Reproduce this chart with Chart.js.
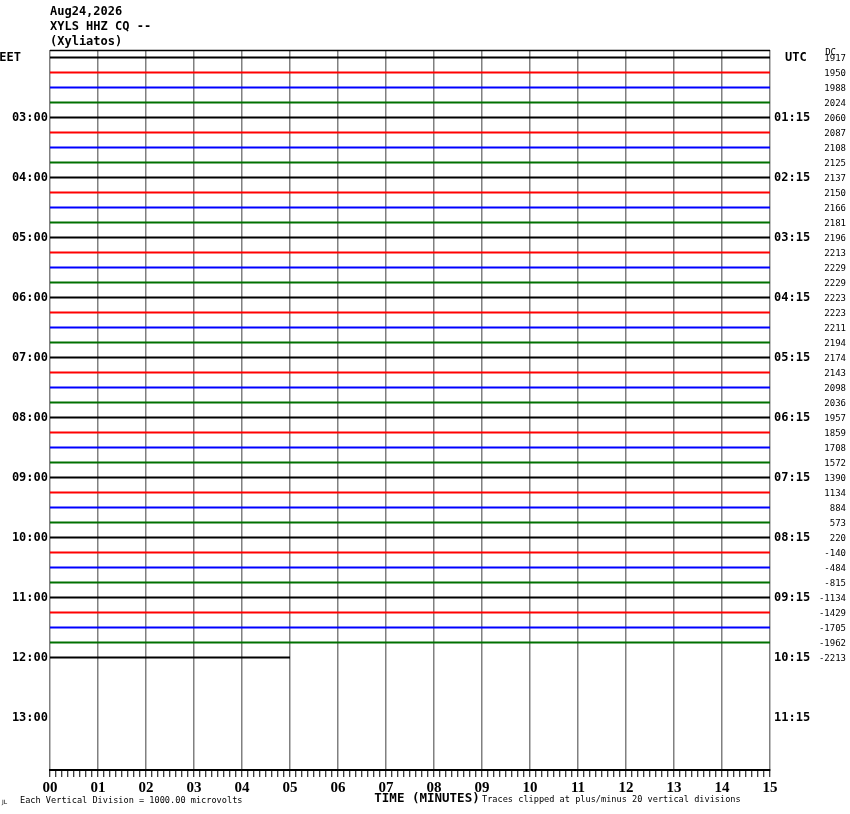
<!DOCTYPE html>
<html>
<head>
<meta charset="utf-8">
<script src="https://cdn.jsdelivr.net/npm/chart.js@4"></script>
<style>
  html, body { margin: 0; padding: 0; background: #fff; }
  canvas { display: block; }
</style>
</head>
<body>
<canvas id="heli" width="850" height="814"></canvas>
<script>
// header text
const titleLines = ['Aug24,2026', 'XYLS HHZ CQ --', '(Xyliatos)'];

// one trace every 15 minutes, colours repeat per hour
const traceColors = ['#000000', '#ff0000', '#0000ff', '#007000'];

// minutes of data recorded in each row (last row is still filling)
const rowMinutes = [
  15, 15, 15, 15, 15, 15, 15, 15, 15, 15,
  15, 15, 15, 15, 15, 15, 15, 15, 15, 15,
  15, 15, 15, 15, 15, 15, 15, 15, 15, 15,
  15, 15, 15, 15, 15, 15, 15, 15, 15, 15,
  5
];

// DC offset printed at right of every row
const dcOffsets = [
  1917, 1950, 1988, 2024, 2060, 2087, 2108, 2125,
  2137, 2150, 2166, 2181, 2196, 2213, 2229, 2229,
  2223, 2223, 2211, 2194, 2174, 2143, 2098, 2036,
  1957, 1859, 1708, 1572, 1390, 1134, 884, 573,
  220, -140, -484, -815, -1134, -1429, -1705, -1962,
  -2213
];

// hour labels, one every 4 rows
const localLabels = ['EET', '03:00', '04:00', '05:00', '06:00', '07:00', '08:00',
  '09:00', '10:00', '11:00', '12:00', '13:00'];
const utcLabels = ['UTC', '01:15', '02:15', '03:15', '04:15', '05:15', '06:15',
  '07:15', '08:15', '09:15', '10:15', '11:15'];

const totalRows = 48;
const minuteMax = 15;

const datasets = rowMinutes.map((m, i) => ({
  data: [{ x: 0, y: i }, { x: m, y: i }],
  borderColor: traceColors[i % 4],
  borderWidth: 2,
  pointRadius: 0,
  tension: 0
}));

const labelsPlugin = {
  id: 'heliText',
  afterDraw(chart) {
    const ctx = chart.ctx;
    const ys = chart.scales.y;
    const area = chart.chartArea;
    ctx.save();

    // top frame line
    ctx.strokeStyle = '#000';
    ctx.lineWidth = 1.5;
    ctx.beginPath();
    ctx.moveTo(area.left, area.top + 0.5);
    ctx.lineTo(area.right, area.top + 0.5);
    ctx.stroke();

    ctx.fillStyle = '#000';
    ctx.textBaseline = 'middle';

    ctx.font = 'bold 12px "DejaVu Sans Mono"';
    ctx.textAlign = 'left';
    titleLines.forEach((t, i) => ctx.fillText(t, 50, 12 + i * 15));

    localLabels.forEach((t, k) => {
      const y = ys.getPixelForValue(k * 4);
      ctx.textAlign = 'right';
      ctx.fillText(t, k === 0 ? 21 : 48, y);
      ctx.textAlign = 'left';
      ctx.fillText(utcLabels[k], k === 0 ? 785 : 774, y);
    });

    ctx.font = '9px "DejaVu Sans Mono"';
    ctx.textAlign = 'right';
    ctx.fillText('DC', 836, 53);
    dcOffsets.forEach((v, i) => {
      ctx.fillText(String(v), 846, ys.getPixelForValue(i) + 1);
    });

    ctx.font = 'bold 12.5px "DejaVu Sans Mono"';
    ctx.textAlign = 'center';
    ctx.fillText('TIME (MINUTES)', 427, 799);

    ctx.font = '8.6px "DejaVu Sans Mono"';
    ctx.textAlign = 'left';
    ctx.fillText('Each Vertical Division = 1000.00 microvolts', 20, 801);
    ctx.fillText('Traces clipped at plus/minus 20 vertical divisions', 482, 800);
    ctx.font = '6px "DejaVu Sans"';
    ctx.fillText('JL', 2, 802);
    ctx.restore();
  }
};

new Chart(document.getElementById('heli'), {
  type: 'line',
  data: { datasets },
  options: {
    responsive: false,
    animation: false,
    devicePixelRatio: 1,
    layout: { padding: { left: 50, right: 80, top: 50, bottom: 0 } },
    plugins: { legend: { display: false }, tooltip: { enabled: false } },
    scales: {
      x: {
        type: 'linear',
        min: 0,
        max: minuteMax,
        afterFit(scale) { scale.height = 44; },
        afterBuildTicks(scale) {
          const t = [];
          for (let v = 0; v <= minuteMax * 8; v++) t.push({ value: v / 8 });
          scale.ticks = t;
        },
        ticks: {
          autoSkip: false,
          maxRotation: 0,
          padding: 2,
          color: '#000',
          font: { family: '"Liberation Serif"', weight: 'bold', size: 15 },
          callback: v => Number.isInteger(v) ? String(v).padStart(2, '0') : ''
        },
        grid: {
          color: c => Number.isInteger(c.tick.value) ? '#808080' : 'rgba(0,0,0,0)',
          lineWidth: 1.5,
          tickColor: '#000',
          tickLength: 7,
          tickWidth: 1
        },
        border: { display: true, color: '#000', width: 2 }
      },
      y: {
        type: 'linear',
        reverse: true,
        min: -0.5,
        max: totalRows - 0.5,
        display: false
      }
    }
  },
  plugins: [labelsPlugin]
});
</script>
</body>
</html>
